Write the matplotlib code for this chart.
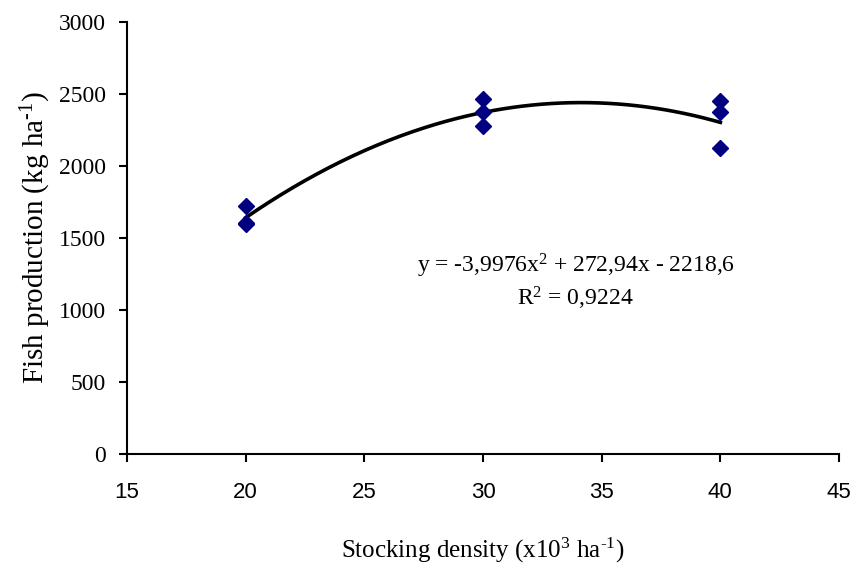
import numpy as np
import matplotlib
matplotlib.use("Agg")
import matplotlib.pyplot as plt

plt.rcParams['mathtext.fontset'] = 'custom'
plt.rcParams['mathtext.rm'] = 'Liberation Serif'
plt.rcParams['mathtext.it'] = 'Liberation Serif:italic'

# observed points (stocking density x10^3 ha-1, fish production kg ha-1)
density = [20, 20, 20, 30, 30, 30, 40, 40, 40]
production = [1725, 1605, 1600, 2465, 2375, 2280, 2450, 2375, 2125]

# quadratic trendline coefficients, as printed on the chart
coef = [-3.9976, 272.94, -2218.6]
r2 = 0.9224

x_ticks = [15, 20, 25, 30, 35, 40, 45]
y_ticks = [0, 500, 1000, 1500, 2000, 2500, 3000]

fig = plt.figure(figsize=(8.61, 5.74), dpi=100)
ax = fig.add_axes([0.1475, 0.209, 0.827, 0.7527])

xs = np.linspace(min(density), max(density), 200)
ax.plot(xs, np.polyval(coef, xs), color='black', lw=2.6, zorder=2)
ax.plot(density, production, linestyle='none', marker='D', ms=8.5,
        color='#000080', zorder=3)

ax.set_xlim(15, 45)
ax.set_ylim(0, 3000)
ax.set_xticks(x_ticks)
ax.set_yticks(y_ticks)
ax.set_xticklabels([str(t) for t in x_ticks], family='Liberation Sans', fontsize=16)
ax.set_yticklabels([str(t) for t in y_ticks], family='Liberation Serif', fontsize=17)

for s in ['top', 'right']:
    ax.spines[s].set_visible(False)
for s in ['left', 'bottom']:
    ax.spines[s].set_linewidth(1.5)
ax.tick_params(direction='out', length=6, width=1.5)
ax.tick_params(axis='y', pad=9)
ax.tick_params(axis='x', pad=14)

hy = '\u2010'  # short hyphen, like the original superscripts
ax.set_xlabel('Stocking density (x10$^{3}$ ha$^{' + hy + '1}$)', family='Liberation Serif',
              fontsize=18, labelpad=24)
ax.set_ylabel('Fish production (kg ha$^{' + hy + '1}$)', family='Liberation Serif',
              fontsize=21, labelpad=4)

eq = 'y = -3,9976x$^{2}$ + 272,94x - 2218,6'
ax.text(33.9, 1306, eq, ha='center', va='center', family='Liberation Serif', fontsize=17)
ax.text(33.9, 1083, 'R$^{2}$ = ' + f'{r2:.4f}'.replace('.', ','), ha='center', va='center',
        family='Liberation Serif', fontsize=17)

fig.savefig('out.png', dpi=100)
